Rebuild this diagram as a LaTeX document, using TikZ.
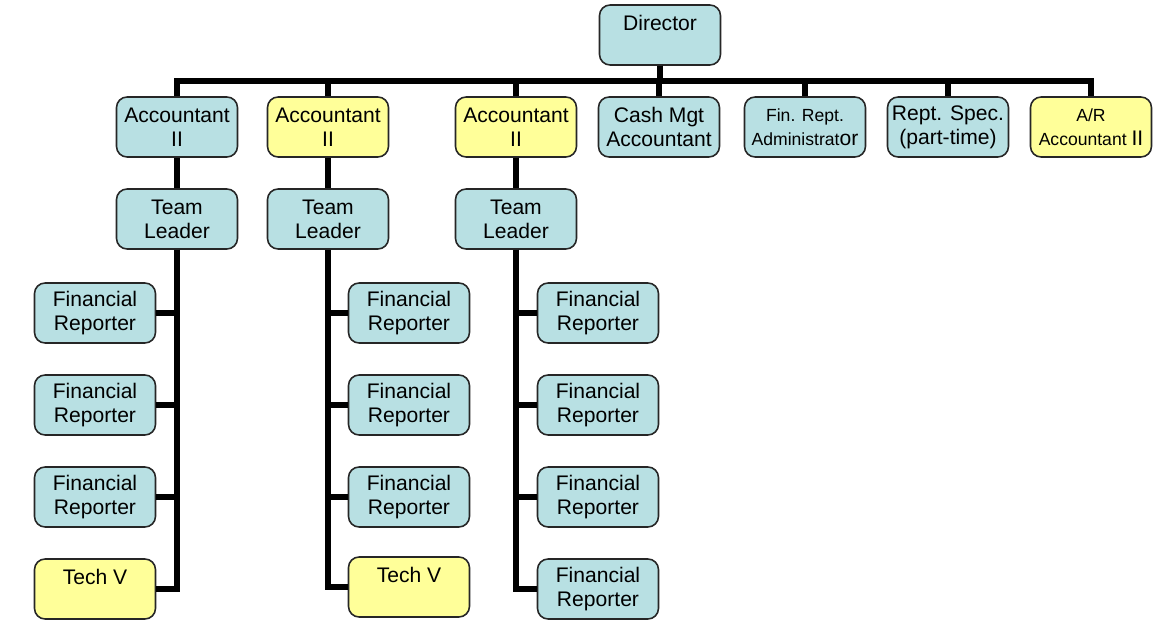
\documentclass[tikz,border=0pt]{standalone}
\usepackage{fontspec}
\setmainfont{Liberation Sans}
\definecolor{postblue}{RGB}{184,224,227}
\definecolor{postyellow}{RGB}{255,255,153}
\tikzset{
  post/.style={draw=black!85, line width=0.9pt, rounded corners=6pt, fill=postblue,
    minimum width=2.42cm, minimum height=1.2cm, inner sep=1pt, align=center,
    font=\fontsize{12}{13.6}\selectfont},
  temp/.style={post, fill=postyellow},
  link/.style={line width=3.4pt},
}
\newcommand{\smalltxt}{\fontsize{10}{13.6}\selectfont}

\begin{document}
\begin{tikzpicture}[x=0.02cm, y=-0.02cm]
  \useasboundingbox (0,0) rectangle (1154,624);
  \node[post] (dir) at (660,35) {Director\\~};
  % first row
  \node[post] (acc1) at (177,127) {Accountant\\II};
  \node[temp] (acc2) at (328,127) {Accountant\\II};
  \node[temp] (acc3) at (516,127) {Accountant\\II};
  \node[post] (cash) at (659,127) {Cash Mgt\\Accountant};
  \node[post] (frad) at (805,127) {{\smalltxt Fin. Rept.}\\{\smalltxt Administrat}or};
  \node[post] (spec) at (948,127) {Rept. Spec.\\(part-time)};
  \node[temp] (arac) at (1091,127) {{\smalltxt A/R}\\{\smalltxt Accountant }II};
  % team leaders
  \node[post] (lead1) at (177,219) {Team\\Leader};
  \node[post] (lead2) at (328,219) {Team\\Leader};
  \node[post] (lead3) at (516,219) {Team\\Leader};
  % reporters
  \foreach \i/\y in {1/313,2/405,3/497} {
    \node[post] (repa\i) at (95,\y) {Financial\\Reporter};
    \node[post] (repb\i) at (409,\y) {Financial\\Reporter};
  }
  \foreach \i/\y in {1/313,2/405,3/497,4/589}
    \node[post] (repc\i) at (598,\y) {Financial\\Reporter};
  \node[temp] (repa4) at (95,589) {Tech V\\~};
  \node[temp] (repb4) at (409,587) {Tech V\\~};

  \foreach \n in {acc1,acc2,acc3,cash,frad,spec,arac}
    \draw[link] (dir.south) -- ++(0,-0.3cm) -| (\n.north);
  \foreach \i in {1,2,3}
    \draw[link] (acc\i) -- (lead\i);
  \foreach \i in {1,...,4} {
    \draw[link] (lead1.south) |- (repa\i.east);
    \draw[link] (lead2.south) |- (repb\i.west);
    \draw[link] (lead3.south) |- (repc\i.west);
  }
\end{tikzpicture}
\end{document}
